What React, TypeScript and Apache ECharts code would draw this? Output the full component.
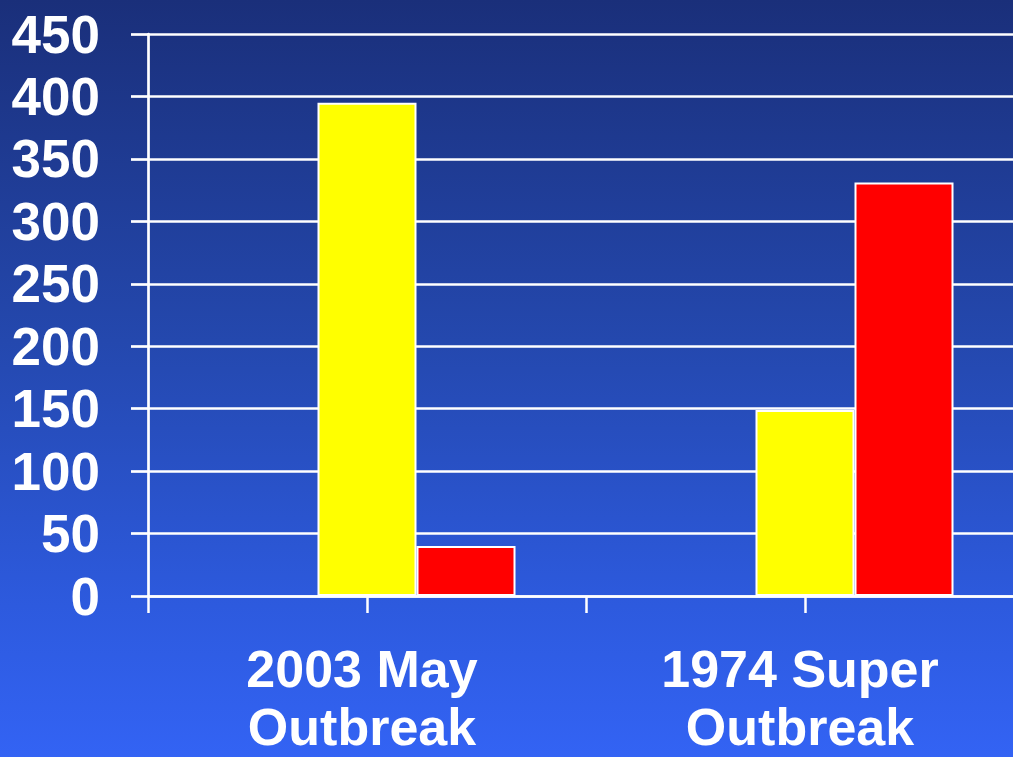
import React, { useEffect, useRef } from "react";
import * as echarts from "echarts";

const categories = ["2003 May\nOutbreak", "1974 Super\nOutbreak"];
const tickSlots = ["a", "b", "c", "d"];
const placeholderSeries = ["-", "-"];
const tornadoes = [395, 149];
const deaths = [40, 331];
const yTicks = { min: 0, max: 450, interval: 50 };

export default function App() {
  const ref = useRef<HTMLDivElement>(null);

  useEffect(() => {
    if (!ref.current) return;
    const chart = echarts.init(ref.current, undefined, { renderer: "svg" });
    const white = "#ffffff";
    const font = "'Liberation Sans', Arial, sans-serif";
    chart.setOption({
      animation: false,
      backgroundColor: "transparent",
      grid: {
        left: 148,
        right: -11,
        top: 34,
        bottom: 161,
        containLabel: false,
        outerBoundsMode: "none",
      },
      xAxis: [
        {
          type: "category",
          data: categories,
          axisLine: { show: true, lineStyle: { color: white, width: 2.7 } },
          axisTick: { show: false },
          axisLabel: {
            color: white,
            fontFamily: font,
            fontWeight: "bold",
            fontSize: 52,
            lineHeight: 58,
            margin: 44,
            padding: [0, 10, 0, 0],
            interval: 0,
          },
          splitLine: { show: false },
        },
        {
          type: "category",
          data: tickSlots,
          position: "bottom",
          axisLine: { show: false },
          axisTick: { show: true, length: 17, lineStyle: { color: white, width: 2.5 } },
          axisLabel: { show: false },
          splitLine: { show: false },
        },
      ],
      yAxis: {
        type: "value",
        min: yTicks.min,
        max: yTicks.max,
        interval: yTicks.interval,
        axisLine: { show: true, lineStyle: { color: white, width: 2.7 } },
        axisTick: { show: true, length: 17, lineStyle: { color: white, width: 2.7 } },
        splitLine: { show: true, lineStyle: { color: white, width: 2.7 } },
        axisLabel: {
          color: white,
          fontFamily: font,
          fontWeight: "bold",
          fontSize: 53,
          margin: 48,
        },
      },
      series: [
        {
          name: "placeholder",
          type: "bar",
          data: placeholderSeries,
          barWidth: 99,
          barGap: "0%",
        },
        {
          name: "Tornadoes",
          type: "bar",
          data: tornadoes,
          barWidth: 99,
          barGap: "0%",
          itemStyle: { color: "#ffff00", borderColor: white, borderWidth: 2 },
        },
        {
          name: "Deaths",
          type: "bar",
          data: deaths,
          barWidth: 99,
          barGap: "0%",
          itemStyle: { color: "#ff0000", borderColor: white, borderWidth: 2 },
        },
      ],
    });
    return () => chart.dispose();
  }, []);

  return (
    <div
      style={{
        position: "absolute",
        left: 0,
        top: 0,
        width: 1013,
        height: 757,
        overflow: "hidden",
        background: "linear-gradient(to bottom, #1a2f7a 0%, #2448ae 45%, #2d5ade 80%, #3363f4 100%)",
      }}
    >
      <div ref={ref} style={{ width: 1013, height: 757 }} />
    </div>
  );
}
